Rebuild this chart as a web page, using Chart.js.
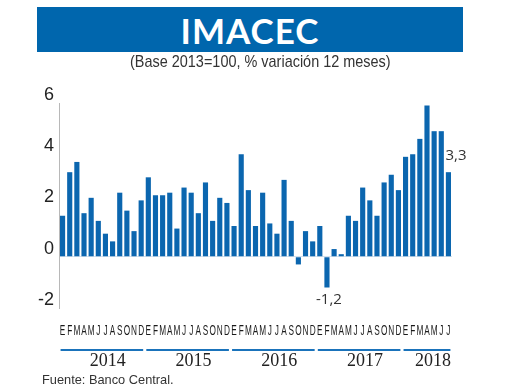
<!DOCTYPE html>
<html lang="es">
<head>
<meta charset="utf-8">
<title>IMACEC</title>
<script src="https://cdn.jsdelivr.net/npm/chart.js@4.4.1/dist/chart.umd.min.js"></script>
<style>
    html, body { margin: 0; padding: 0; background: #fff; }
    .wrap { position: relative; width: 520px; height: 390px; overflow: hidden; }
    .wrap canvas { position: absolute; left: 0; top: 0; }
    .titulo {
        position: absolute; left: 37px; top: 7px; width: 426px; height: 45px;
        background: #0066ad; color: #fff; text-align: center;
        font: bold 35px Lato, "Open Sans", sans-serif; line-height: 46px; letter-spacing: 1px;
    }
    .subtitulo {
        position: absolute; left: 0; top: 52px; width: 520px; text-align: center;
    }
    .subtitulo span {
        display: inline-block; transform: scaleX(0.85);
        font: 17px "Liberation Sans", Arial, sans-serif; color: #333;
    }
    .fuente {
        position: absolute; left: 42px; top: 372px;
        font: 12.8px "Liberation Sans", Arial, sans-serif; color: #333;
    }
</style>
</head>
<body>
<div class="wrap">
    <canvas id="imacecChart" width="520" height="390"></canvas>
    <div class="titulo">IMACEC</div>
    <div class="subtitulo"><span>(Base 2013=100, % variación 12 meses)</span></div>
    <div class="fuente">Fuente: Banco Central.</div>
</div>
<script>
// Datos
const meses = ['E', 'F', 'M', 'A', 'M', 'J', 'J', 'A', 'S', 'O', 'N', 'D'];
const anios = ['2014', '2015', '2016', '2017', '2018'];
const imacec = [
    1.6, 3.3, 3.7, 1.7, 2.3, 1.4, 0.9, 0.6, 2.5, 1.8, 1.0, 2.2,
    3.1, 2.4, 2.4, 2.5, 1.1, 2.7, 2.5, 1.7, 2.9, 1.4, 2.3, 2.1,
    1.2, 4.0, 2.6, 1.2, 2.5, 1.3, 0.9, 3.0, 1.4, -0.3, 1.0, 0.6,
    1.2, -1.2, 0.3, 0.1, 1.6, 1.4, 2.7, 2.2, 1.6, 2.9, 3.2, 2.6,
    3.9, 4.0, 4.6, 5.9, 4.9, 4.9, 3.3
];
const yTicks = [-2, 0, 2, 4, 6];
const destacados = [37, 54]; // barras con su valor escrito

const azul = '#0b66af';
const etiquetas = imacec.map((v, i) => meses[i % 12]);

// Letras de los meses, angostas como en el original
const mesesPlugin = {
    id: 'mesesPlugin',
    afterDraw(chart) {
        const ctx = chart.ctx;
        const x = chart.scales.x;
        ctx.save();
        ctx.fillStyle = '#1a1a1a';
        ctx.font = '15px "Liberation Sans", Arial, sans-serif';
        ctx.textAlign = 'center';
        ctx.textBaseline = 'alphabetic';
        etiquetas.forEach((m, i) => {
            ctx.save();
            ctx.translate(x.getPixelForValue(i), 334.5);
            ctx.scale(0.55, 1);
            ctx.fillText(m, 0, 0);
            ctx.restore();
        });

        // Línea y texto de cada año
        ctx.font = '18px "Liberation Serif", "DejaVu Serif", serif';
        ctx.fillStyle = '#222';
        ctx.textBaseline = 'middle';
        anios.forEach((anio, k) => {
            const first = k * 12;
            const last = Math.min(first + 11, imacec.length - 1);
            const x0 = x.getPixelForValue(first) - 2;
            const x1 = x.getPixelForValue(last) + 2;
            ctx.strokeStyle = '#1a73bb';
            ctx.lineWidth = 2;
            ctx.beginPath();
            ctx.moveTo(x0, 350);
            ctx.lineTo(x1, 350);
            ctx.stroke();
            ctx.fillText(anio, (x0 + x1) / 2 + 6, 361);
        });
        ctx.restore();
    }
};

// Valores escritos junto a algunas barras
const valoresPlugin = {
    id: 'valoresPlugin',
    afterDatasetsDraw(chart) {
        const ctx = chart.ctx;
        const bars = chart.getDatasetMeta(0).data;
        ctx.save();
        ctx.fillStyle = '#333';
        ctx.font = '15px "Open Sans", "Liberation Sans", sans-serif';
        destacados.forEach(i => {
            const bar = bars[i];
            const txt = imacec[i].toFixed(1).replace('.', ',');
            ctx.textBaseline = 'middle';
            if (imacec[i] < 0) {
                ctx.textAlign = 'center';
                ctx.fillText(txt, bar.x + 2, bar.y + 12);
            } else {
                ctx.textAlign = 'left';
                ctx.fillText(txt, bar.x - 3, bar.y - 16);
            }
        });
        ctx.restore();
    }
};

document.addEventListener('DOMContentLoaded', function() {
    const canvas = document.getElementById('imacecChart');
    new Chart(canvas.getContext('2d'), {
        type: 'bar',
        data: {
            labels: etiquetas,
            datasets: [{
                data: imacec,
                backgroundColor: azul,
                borderWidth: 0,
                categoryPercentage: 1,
                barPercentage: 0.72
            }]
        },
        options: {
            responsive: false,
            animation: false,
            devicePixelRatio: 1,
            layout: { padding: { top: 103, right: 68, left: 0, bottom: 0 } },
            plugins: {
                legend: { display: false },
                tooltip: { enabled: false }
            },
            scales: {
                x: {
                    grid: { display: false },
                    border: { display: false },
                    ticks: { display: false },
                    afterFit: s => { s.height = 82; }
                },
                y: {
                    min: -2,
                    max: 6,
                    afterFit: s => { s.width = 59; },
                    afterBuildTicks: s => { s.ticks = yTicks.map(v => ({ value: v })); },
                    border: { display: true, color: '#b8b8b8', width: 1 },
                    grid: {
                        drawTicks: false,
                        color: c => (c.tick && c.tick.value === 0) ? '#d3e0ec' : 'rgba(0,0,0,0)'
                    },
                    ticks: {
                        padding: 5,
                        labelOffset: -8,
                        color: '#222',
                        font: { family: '"Liberation Sans", Arial, sans-serif', size: 18 }
                    }
                }
            }
        },
        plugins: [mesesPlugin, valoresPlugin]
    });
});
</script>
</body>
</html>
